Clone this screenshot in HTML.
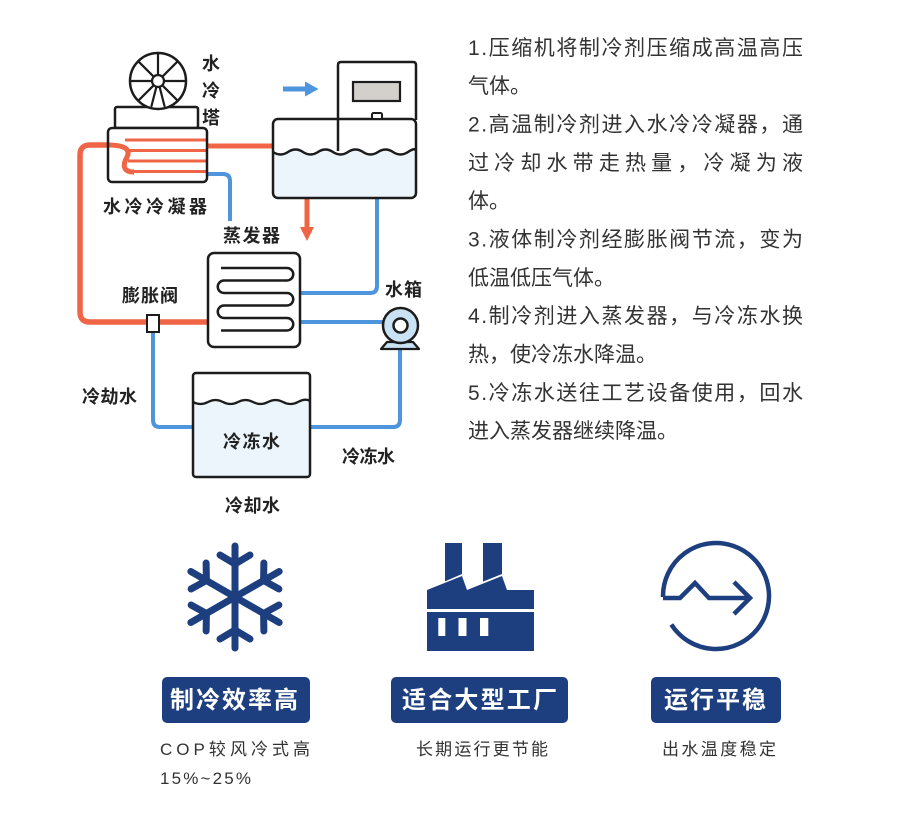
<!DOCTYPE html>
<html>
<head>
<meta charset="utf-8">
<style>
html,body{margin:0;padding:0;background:#fff;}
svg{display:block;}
.t{font-family:"Liberation Sans","Noto Sans CJK SC",sans-serif;}
</style>
</head>
<body>
<svg width="900" height="821" viewBox="0 0 900 821" xmlns="http://www.w3.org/2000/svg">
<rect x="0" y="0" width="900" height="821" fill="#fff"/>

<!-- ============ PIPES ============ -->
<g fill="none" stroke-linecap="butt">
  <!-- red big loop -->
  <path d="M208,322 H90 Q80,322 80,312 V155 Q80,145 90,145 H118" stroke="#ef6545" stroke-width="5.5"/>
  <!-- red condenser to tank -->
  <path d="M198,146 H274" stroke="#ef6545" stroke-width="5"/>
  <!-- blue from condenser down -->
  <path d="M207,174 H223 Q230,174 230,181 V221" stroke="#4e95dd" stroke-width="4"/>
  <!-- blue tank to evaporator -->
  <path d="M377,198 V286 Q377,293 370,293 H300" stroke="#4e95dd" stroke-width="4"/>
  <!-- blue evaporator to pump -->
  <path d="M300,322 H384" stroke="#4e95dd" stroke-width="4"/>
  <!-- blue pump to cold tank -->
  <path d="M400,349 V420 Q400,427 393,427 H310" stroke="#4e95dd" stroke-width="4"/>
  <!-- blue valve to cold tank -->
  <path d="M153,332 V420 Q153,427 160,427 H193" stroke="#4e95dd" stroke-width="4"/>
  <!-- red arrow down -->
  <path d="M307,198 V229" stroke="#ef6545" stroke-width="5"/>
  <!-- blue arrow -->
  <path d="M283,89 H307" stroke="#4e95dd" stroke-width="5"/>
</g>
<polygon points="300,227 314,227 307,241" fill="#ef6545"/>
<polygon points="305,81.5 318.5,89 305,96.5" fill="#4e95dd"/>

<!-- ============ COOLING TOWER ============ -->
<g stroke="#1c1c1c" stroke-width="2.5" fill="#fff">
  <rect x="115" y="107" width="83" height="21" rx="2"/>
  <circle cx="158" cy="81" r="28"/>
</g>
<g stroke="#1c1c1c" stroke-width="2.2" stroke-linecap="round">
  <line x1="164" y1="81" x2="186" y2="81"/>
  <line x1="162.2" y1="85.2" x2="177.8" y2="100.8"/>
  <line x1="153.8" y1="85.2" x2="138.2" y2="100.8"/>
  <line x1="152" y1="81" x2="130" y2="81"/>
  <line x1="153.8" y1="76.8" x2="138.2" y2="61.2"/>
  <line x1="158" y1="75" x2="158" y2="53"/>
  <line x1="162.2" y1="76.8" x2="177.8" y2="61.2"/>
  <line x1="159.6" y1="86.8" x2="164.5" y2="106"/>
  <line x1="156.4" y1="86.8" x2="151.5" y2="106"/>
</g>
<circle cx="158" cy="81" r="6" fill="#fff" stroke="#1c1c1c" stroke-width="2.2"/>

<!-- condenser -->
<rect x="108" y="128" width="99" height="54" rx="4" fill="#fff"/>
<g stroke="#ef6545" fill="none">
  <line x1="125" y1="140" x2="207" y2="140" stroke-width="3"/>
  <line x1="128" y1="150.5" x2="207" y2="150.5" stroke-width="3"/>
  <line x1="128" y1="161" x2="207" y2="161" stroke-width="3"/>
  <line x1="128" y1="171.5" x2="207" y2="171.5" stroke-width="3"/>
  <path d="M108,145 C124,145 131,149 127,157 C123,164 122,172 134,172" stroke-width="5"/>
</g>
<rect x="108" y="128" width="99" height="54" rx="4" fill="none" stroke="#1c1c1c" stroke-width="2.5"/>

<!-- ============ CHILLER / TANK ============ -->
<path d="M273,152 Q280.5,157 288,152 T303,152 T318,152 T333,152 T348,152 T363,152 T378,152 T393,152 T408,152 T416,151 L416,193 Q416,198 411,198 L278,198 Q273,198 273,193 Z" fill="#ecf5fb"/>
<path d="M273,152 Q280.5,157 288,152 T303,152 T318,152 T333,152 T348,152 T363,152 T378,152 T393,152 T408,152 T416,151" fill="none" stroke="#1c1c1c" stroke-width="2.5"/>
<rect x="273" y="119" width="143" height="79" rx="5" fill="none" stroke="#1c1c1c" stroke-width="2.5"/>
<path d="M338,151 V65 Q338,62 341,62 H413 Q416,62 416,65 V120" fill="none" stroke="#1c1c1c" stroke-width="2.5"/>
<rect x="353" y="82" width="47" height="19" fill="#d3cfcb" stroke="#1c1c1c" stroke-width="2.2"/>
<rect x="372" y="113" width="10" height="6" rx="1.5" fill="#fff" stroke="#1c1c1c" stroke-width="2"/>

<!-- ============ EVAPORATOR ============ -->
<rect x="208" y="253" width="92" height="94" rx="6" fill="#fff" stroke="#1c1c1c" stroke-width="2.5"/>
<path d="M221,268 H287 A6.25,6.25 0 0 1 287,280.5 H224 A6.25,6.25 0 0 0 224,293 H287 A6.25,6.25 0 0 1 287,305.5 H224 A6.25,6.25 0 0 0 224,318 H287 A6.25,6.25 0 0 1 287,330.5 H221" fill="none" stroke="#1c1c1c" stroke-width="2.5"/>

<!-- valve -->
<rect x="147" y="315" width="12" height="17" fill="#fff" stroke="#1c1c1c" stroke-width="2"/>

<!-- pump -->
<polygon points="387,342 413,342 419,349 381,349" fill="#c9e3f5" stroke="#1c1c1c" stroke-width="2.3" stroke-linejoin="round"/>
<circle cx="400.5" cy="325.5" r="17.5" fill="#c9e3f5" stroke="#1c1c1c" stroke-width="2.5"/>
<circle cx="400.5" cy="325.5" r="7" fill="#fff" stroke="#1c1c1c" stroke-width="2.5"/>

<!-- cold water tank -->
<path d="M193,402 Q200.5,406 208,402 T223,402 T238,402 T253,402 T268,402 T283,402 T298,402 T310,401 L310,474 Q310,477 307,477 L196,477 Q193,477 193,474 Z" fill="#ecf5fb"/>
<path d="M193,402 Q200.5,406 208,402 T223,402 T238,402 T253,402 T268,402 T283,402 T298,402 T310,401" fill="none" stroke="#1c1c1c" stroke-width="2.3"/>
<rect x="193" y="373" width="117" height="104" rx="3" fill="none" stroke="#1c1c1c" stroke-width="2.5"/>

<!-- ============ DIAGRAM LABELS ============ -->
<g class="t" font-size="18" font-weight="bold" fill="#222">
  <text x="202" y="70">水</text>
  <text x="202" y="97">冷</text>
  <text x="202" y="124">塔</text>
  <text x="103" y="213" textLength="104" lengthAdjust="spacing">水冷冷凝器</text>
  <text x="223" y="242" textLength="57" lengthAdjust="spacing">蒸发器</text>
  <text x="122" y="302" textLength="56" lengthAdjust="spacing">膨胀阀</text>
  <text x="385" y="296" textLength="37" lengthAdjust="spacing">水箱</text>
  <text x="82" y="403" textLength="55" lengthAdjust="spacing">冷劫水</text>
  <text x="223" y="448" textLength="57" lengthAdjust="spacing">冷冻水</text>
  <text x="342" y="463" textLength="53" lengthAdjust="spacing">冷冻水</text>
  <text x="225" y="512" textLength="55" lengthAdjust="spacing">冷却水</text>
</g>

<!-- ============ RIGHT TEXT ============ -->
<g class="t" font-size="21" fill="#333">
  <text x="468" y="55" textLength="335" lengthAdjust="spacing">1.压缩机将制冷剂压缩成高温高压</text>
  <text x="468" y="93">气体。</text>
  <text x="468" y="131.5" textLength="335" lengthAdjust="spacing">2.高温制冷剂进入水冷冷凝器，通</text>
  <text x="468" y="170" textLength="335" lengthAdjust="spacing">过冷却水带走热量，冷凝为液</text>
  <text x="468" y="208">体。</text>
  <text x="468" y="246.5" textLength="335" lengthAdjust="spacing">3.液体制冷剂经膨胀阀节流，变为</text>
  <text x="468" y="285">低温低压气体。</text>
  <text x="468" y="323" textLength="335" lengthAdjust="spacing">4.制冷剂进入蒸发器，与冷冻水换</text>
  <text x="468" y="361.5">热，使冷冻水降温。</text>
  <text x="468" y="400" textLength="335" lengthAdjust="spacing">5.冷冻水送往工艺设备使用，回水</text>
  <text x="468" y="438">进入蒸发器继续降温。</text>
</g>

<!-- ============ ICONS ============ -->
<!-- snowflake -->
<g stroke="#1e3f7f" stroke-width="7" stroke-linecap="round" stroke-linejoin="round" fill="none">
  <g id="arm">
    <line x1="235" y1="597" x2="235" y2="546"/>
    <path d="M220,555 L235,564 L250,555"/>
  </g>
  <g transform="rotate(60 235 597)"><line x1="235" y1="597" x2="235" y2="546"/><path d="M220,555 L235,564 L250,555"/></g>
  <g transform="rotate(120 235 597)"><line x1="235" y1="597" x2="235" y2="546"/><path d="M220,555 L235,564 L250,555"/></g>
  <g transform="rotate(180 235 597)"><line x1="235" y1="597" x2="235" y2="546"/><path d="M220,555 L235,564 L250,555"/></g>
  <g transform="rotate(240 235 597)"><line x1="235" y1="597" x2="235" y2="546"/><path d="M220,555 L235,564 L250,555"/></g>
  <g transform="rotate(300 235 597)"><line x1="235" y1="597" x2="235" y2="546"/><path d="M220,555 L235,564 L250,555"/></g>
</g>

<!-- factory -->
<g fill="#1e3f7f">
  <polygon points="445,543 462,543 462,574 445,581.4"/>
  <polygon points="483,543 502,543 502,574 483,581.6"/>
  <polygon points="427,590 462,576 467,590 502,576 507,590 534,590 534,609 427,609"/>
  <rect x="427" y="612" width="107" height="39"/>
</g>
<g fill="#fff">
  <rect x="438.3" y="618" width="7" height="18"/>
  <rect x="458.5" y="618" width="8" height="18"/>
  <rect x="480" y="618" width="8.3" height="18"/>
</g>

<!-- circle arrow -->
<g fill="none" stroke="#1e3f7f" stroke-width="4.5" stroke-linejoin="miter">
  <path d="M663,597 A53,53 0 1 1 671.3,624.5"/>
  <path d="M663,598 H680 L695,583 L709,598 H749"/>
  <path d="M734,582 L750,598 L734,614"/>
</g>

<!-- ============ BUTTONS ============ -->
<rect x="162" y="677" width="148" height="46" rx="5" fill="#1e3f7f"/>
<rect x="391" y="677" width="177" height="46" rx="5" fill="#1e3f7f"/>
<rect x="651" y="677" width="130" height="46" rx="5" fill="#1e3f7f"/>
<g class="t" font-size="24" font-weight="bold" fill="#fff">
  <text x="170" y="708" textLength="128" lengthAdjust="spacing">制冷效率高</text>
  <text x="402" y="708" textLength="155" lengthAdjust="spacing">适合大型工厂</text>
  <text x="664" y="708" textLength="102" lengthAdjust="spacing">运行平稳</text>
</g>

<!-- ============ CAPTIONS ============ -->
<g class="t" font-size="17" fill="#333">
  <text x="160" y="755" textLength="150" lengthAdjust="spacing">COP较风冷式高</text>
  <text x="160" y="784" textLength="91" lengthAdjust="spacing">15%~25%</text>
  <text x="416" y="755" textLength="132" lengthAdjust="spacing">长期运行更节能</text>
  <text x="662" y="755" textLength="114" lengthAdjust="spacing">出水温度稳定</text>
</g>
</svg>
</body>
</html>
